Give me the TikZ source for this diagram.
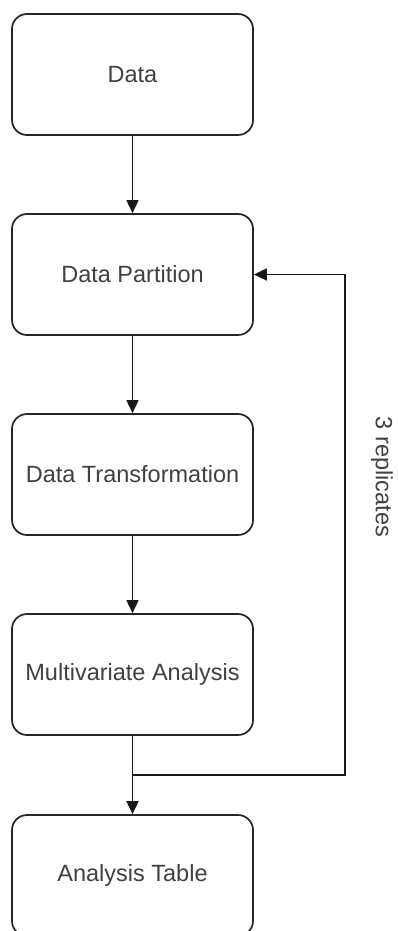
\documentclass[tikz,border=0pt]{standalone}
\usepackage{fontspec}
\setmainfont{Liberation Sans}
\usetikzlibrary{arrows.meta}
\begin{document}
\begin{tikzpicture}[x=1pt,y=-1pt,
  box/.style={draw=black!85, line width=1.7pt, rounded corners=15pt, fill=white,
    minimum width=241pt, minimum height=121pt, inner sep=0pt,
    font=\fontsize{23.5}{27}\selectfont, text=black!75},
  conn/.style={draw=black!90, line width=1.7pt, -{Triangle[length=13pt,width=12pt]}},
  line/.style={draw=black!90, line width=1.7pt}]
\useasboundingbox (0,0) rectangle (398,931);
\node[box] (d) at (132.5,74.5) {Data};
\node[box] (p) at (132.5,274.5) {Data Partition};
\node[box] (t) at (132.5,474.5) {Data Transformation};
\node[box] (m) at (132.5,674.5) {Multivariate Analysis};
\node[box] (a) at (132.5,875.5) {Analysis Table};
\coordinate (j) at (132.5,775);
\coordinate (r1) at (345,775);
\coordinate (r2) at (345,274.5);
\draw[conn] (d) -- (p);
\draw[conn] (p) -- (t);
\draw[conn] (t) -- (m);
\draw[conn] (m) -- (a);
\draw[conn] (j) -- (r1) -- (r2) -- (p.east);
\node[rotate=-90, font=\fontsize{23.5}{27}\selectfont, text=black!75] (lbl) at (382,477) {3 replicates};
\end{tikzpicture}
\end{document}
